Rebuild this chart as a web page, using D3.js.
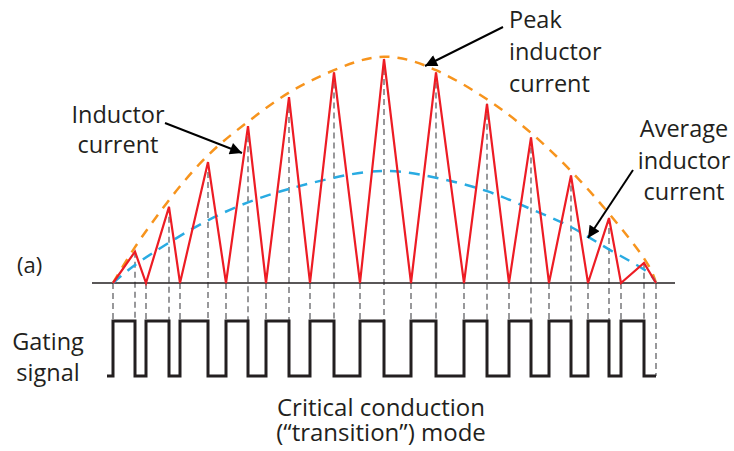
<!DOCTYPE html>
<html>
<head>
<meta charset="utf-8">
<script src="https://cdn.jsdelivr.net/npm/d3@7"></script>
<style>
  body { margin: 0; background: #fff; }
  svg text { font-family: "Open Sans", "Noto Sans", sans-serif; fill: #231f20; }
</style>
</head>
<body>
<script>
// switching instants (time units)
var zeroTimes = [0, 33, 67, 113, 153, 197, 247, 298, 351, 396, 436, 475, 508, 543];
var peakTimes = [22, 56, 95, 135, 176, 221, 271, 323, 374, 418, 458, 496, 531];
// peak of each triangle, normalised to the largest one
var peakValues = [0.14, 0.34, 0.54, 0.70, 0.83, 0.94, 1.0, 0.94, 0.80, 0.65, 0.48, 0.29, 0.09];

// envelope samples (peak and average inductor current)
var envTimes = [0, 22, 56, 95, 135, 176, 221, 271, 323, 374, 418, 458, 496, 531, 543];
var envPeak  = [0, 0.16, 0.37, 0.57, 0.72, 0.85, 0.95, 1.01, 0.95, 0.82, 0.67, 0.50, 0.31, 0.11, 0];
var envAvg   = [0, 0.08, 0.18, 0.28, 0.36, 0.42, 0.47, 0.50, 0.47, 0.41, 0.33, 0.25, 0.15, 0.06, 0];

var width = 734, height = 451;

var svg = d3.select("body").append("svg")
    .attr("width", width)
    .attr("height", height);

//scales
var x = d3.scaleLinear().domain([0, 543]).range([113, 656]);
var y = d3.scaleLinear().domain([0, 1]).range([283, 59]);
var g = d3.scaleLinear().domain([0, 1]).range([376, 321]); // gating level

//arrow marker
svg.append("defs").append("marker")
    .attr("id", "arrow")
    .attr("viewBox", "0 0 10 10")
    .attr("refX", 10).attr("refY", 5)
    .attr("markerWidth", 7).attr("markerHeight", 6)
    .attr("markerUnits", "strokeWidth")
    .attr("orient", "auto")
  .append("path")
    .attr("d", "M0,0 L10,5 L0,10 Z")
    .attr("fill", "#000");

//build current waveform: zero, peak, zero, ...
var current = [];
zeroTimes.forEach(function(t, i){
    current.push([t, 0]);
    if (i < peakTimes.length) current.push([peakTimes[i], peakValues[i]]);
});

//vertical dashed guides at every switching instant
var guides = current.map(function(d, i){
    return {t: d[0], v: d[1], last: i == current.length - 1};
});
svg.selectAll(".guide")
    .data(guides)
    .enter()
    .append("line")
    .attr("class", "guide")
    .attr("x1", function(d){ return x(d.t); })
    .attr("x2", function(d){ return x(d.t); })
    .attr("y1", function(d){ return y(d.v); })
    .attr("y2", function(d){ return d.last ? g(0) : g(1); })
    .attr("stroke", "#6d6e71")
    .attr("stroke-width", 1.4)
    .attr("stroke-dasharray", "6,4");

//time axis line
svg.append("line")
    .attr("x1", x(-21)).attr("x2", x(562))
    .attr("y1", y(0)).attr("y2", y(0))
    .attr("stroke", "#231f20")
    .attr("stroke-width", 1.5);

var envLine = d3.line()
    .x(function(d){ return x(d[0]); })
    .y(function(d){ return y(d[1]); })
    .curve(d3.curveNatural);

//peak envelope
svg.append("path")
    .datum(d3.zip(envTimes, envPeak))
    .attr("d", envLine)
    .attr("fill", "none")
    .attr("stroke", "#f7941d")
    .attr("stroke-width", 2.5)
    .attr("stroke-dasharray", "10,8");

//average current
svg.append("path")
    .datum(d3.zip(envTimes, envAvg))
    .attr("d", envLine)
    .attr("fill", "none")
    .attr("stroke", "#29abe2")
    .attr("stroke-width", 2.5)
    .attr("stroke-dasharray", "11,8");

//inductor current
svg.append("path")
    .datum(current)
    .attr("d", d3.line()
        .x(function(d){ return x(d[0]); })
        .y(function(d){ return y(d[1]); }))
    .attr("fill", "none")
    .attr("stroke", "#ed1c24")
    .attr("stroke-width", 2.2)
    .attr("stroke-linejoin", "miter");

//gating signal: high from each zero to the next peak
var gate = [[-6, 0]];
zeroTimes.forEach(function(t, i){
    if (i < peakTimes.length) {
        gate.push([t, 1]);
        gate.push([peakTimes[i], 0]);
    } else {
        gate.push([t, 0]);
    }
});
svg.append("path")
    .datum(gate)
    .attr("d", d3.line()
        .x(function(d){ return x(d[0]); })
        .y(function(d){ return g(d[1]); })
        .curve(d3.curveStepAfter))
    .attr("fill", "none")
    .attr("stroke", "#231f20")
    .attr("stroke-width", 3);

//labels
function label(lines, px, py, anchor, lh, size){
    var t = svg.append("text")
        .attr("x", px).attr("y", py)
        .attr("text-anchor", anchor)
        .style("font-size", size + "px");
    lines.forEach(function(s, i){
        t.append("tspan").attr("x", px).attr("dy", i == 0 ? 0 : lh).text(s);
    });
}
label(["Peak", "inductor", "current"], 509, 28, "start", 32, 23.5);
label(["Inductor", "current"], 118, 123, "middle", 30, 23.5);
label(["Average", "inductor", "current"], 684, 137, "middle", 31.5, 23.5);
label(["(a)"], 17, 273, "start", 0, 22);
label(["Gating", "signal"], 48, 350, "middle", 31, 23.5);
label(["Critical conduction", "(\u201Ctransition\u201D) mode"], 381, 416, "middle", 25, 24);

//arrows
var arrows = [[503, 27, 425, 66], [165, 123, 242, 153], [633, 170, 588, 238]];
svg.selectAll(".arrow")
    .data(arrows)
    .enter()
    .append("line")
    .attr("x1", function(d){ return d[0]; })
    .attr("y1", function(d){ return d[1]; })
    .attr("x2", function(d){ return d[2]; })
    .attr("y2", function(d){ return d[3]; })
    .attr("stroke", "#000")
    .attr("stroke-width", 2)
    .attr("marker-end", "url(#arrow)");
</script>
</body>
</html>
